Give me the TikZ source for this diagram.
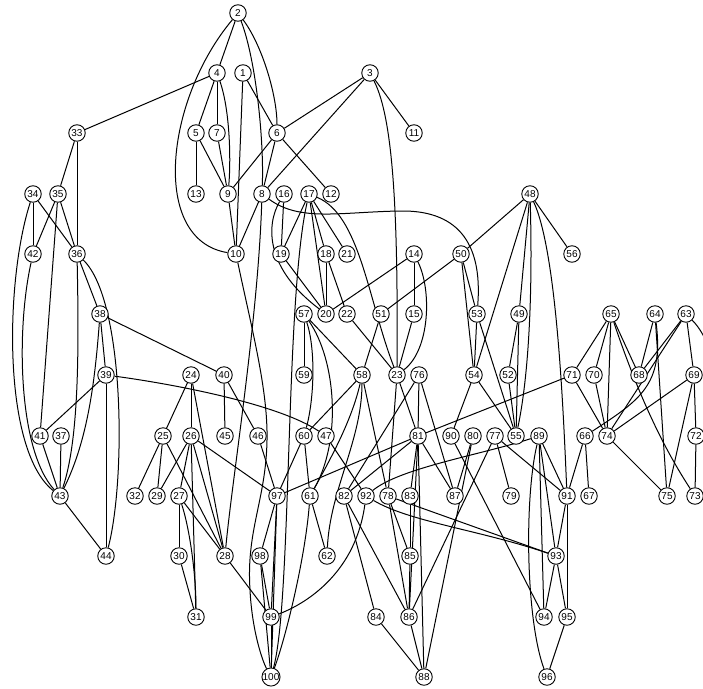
\documentclass[tikz,border=0pt]{standalone}
\usepackage{fontspec}
\setmainfont{Liberation Sans}
\usetikzlibrary{backgrounds}
\begin{document}
\begin{tikzpicture}[x=1pt, y=-1pt,
    vertex/.style={draw, circle, fill=white, line width=0.9pt, minimum size=16.5pt, inner sep=0pt, font=\fontsize{10}{10}\selectfont},
    link/.style={line width=1pt}]
\useasboundingbox (0,0) rectangle (703,688);
% Nodes, one rank per row
\foreach \n/\x in {2/238} \node[vertex] (v\n) at (\x,13) {\n};
\foreach \n/\x in {4/217, 1/243, 3/370} \node[vertex] (v\n) at (\x,73) {\n};
\foreach \n/\x in {33/77, 5/196, 7/217, 6/277, 11/414} \node[vertex] (v\n) at (\x,133) {\n};
\foreach \n/\x in {34/33, 35/58, 13/196, 9/228, 8/262, 16/284, 17/309, 12/331, 48/530} \node[vertex] (v\n) at (\x,194) {\n};
\foreach \n/\x in {42/33, 36/77, 10/236, 19/281, 18/326, 21/347, 14/414, 50/461, 56/572} \node[vertex] (v\n) at (\x,254) {\n};
\foreach \n/\x in {38/100, 57/304, 20/326, 22/347, 51/381, 15/414, 53/477, 49/519, 65/611, 64/655, 63/686} \node[vertex] (v\n) at (\x,314) {\n};
\foreach \n/\x in {39/106, 24/191, 40/224, 59/304, 58/362, 23/397, 76/419, 54/474, 52/508, 71/572, 70/594, 68/639, 69/694} \node[vertex] (v\n) at (\x,375) {\n};
\foreach \n/\x in {41/40, 37/61, 25/163, 26/191, 45/225, 46/258, 60/304, 47/326, 81/418, 90/451, 80/473, 77/495, 55/516, 89/539, 66/585, 74/607, 72/696} \node[vertex] (v\n) at (\x,436) {\n};
\foreach \n/\x in {43/60, 32/135, 29/157, 27/179, 97/277, 61/310, 82/344, 92/366, 78/388, 83/410, 87/455, 79/511, 91/567, 67/589, 75/667, 73/695} \node[vertex] (v\n) at (\x,496) {\n};
\foreach \n/\x in {44/106, 30/179, 28/225, 98/260, 62/327, 85/410, 93/556} \node[vertex] (v\n) at (\x,556) {\n};
\foreach \n/\x in {31/196, 99/271, 84/376, 86/409, 94/544, 95/567} \node[vertex] (v\n) at (\x,617) {\n};
\foreach \n/\x in {100/271, 88/424, 96/547} \node[vertex] (v\n) at (\x,677) {\n};
\begin{scope}[on background layer]
% Straight edges
\foreach \a/\b in {2/4, 4/33, 4/5, 4/7, 1/6, 3/6, 3/8, 3/11, 5/13, 5/9, 7/9, 6/9, 6/8, 6/12, 9/10, 8/10, 1/10,
    33/35, 33/36, 34/42, 34/36, 35/42, 35/36, 35/41, 36/38, 38/39, 38/40, 39/41, 39/44, 37/43, 41/43, 43/44, 40/45, 40/46,
    24/25, 24/26, 24/28, 25/32, 25/29, 25/28, 26/29, 26/27, 26/31, 26/28, 26/97, 27/30, 27/28, 30/31, 28/99,
    16/19, 17/19, 17/18, 17/20, 17/21, 19/20, 18/20, 18/22, 14/20, 14/15, 22/23, 15/23, 50/51, 51/58, 57/58, 57/59,
    58/60, 58/78, 60/97, 60/61, 61/62, 46/97, 47/92,
    23/81, 23/78, 76/81, 76/87, 76/82, 81/82, 71/81, 81/97, 81/83, 81/87, 81/86, 81/88, 83/85, 78/85, 78/86, 82/86,
    82/84, 85/86, 86/88, 84/88, 80/87, 80/88, 77/86, 77/79, 77/91,
    48/50, 48/54, 48/49, 48/56, 50/53, 50/54, 53/54, 53/55, 54/55, 49/52, 49/55, 52/55, 54/90, 90/94,
    89/91, 89/93, 89/94, 66/91, 66/67, 91/93, 91/95, 93/94, 93/95, 95/96, 78/93,
    65/71, 65/70, 65/74, 65/68, 64/68, 64/75, 63/68, 63/74, 63/69, 69/72, 69/74, 69/75, 70/74, 71/74, 74/75, 72/73,
    97/98, 97/99, 97/100, 98/99, 98/100, 99/100}
  \draw[link] (v\a) -- (v\b);
% Curved edges
\draw[link] (v2) .. controls (262,45) and (277,95) .. (v6);
\draw[link] (v2) .. controls (256,60) and (264,140) .. (v8);
\draw[link] (v2) .. controls (165,100) and (150,240) .. (v10);
\draw[link] (v4) .. controls (230,110) and (231,160) .. (v9);
\draw[link] (v3) .. controls (394,120) and (398,220) .. (v23);
\draw[link] (v8) .. controls (300,222) and (340,212) .. (400,211) .. controls (455,210) and (483,240) .. (v53);
\draw[link] (v8) .. controls (258,320) and (232,480) .. (v28);
\draw[link] (v16) .. controls (266,225) and (265,268) .. (v20);
\draw[link] (v17) .. controls (360,215) and (368,300) .. (v23);
\draw[link] (v14) .. controls (432,290) and (430,350) .. (v23);
\draw[link] (v17) .. controls (285,300) and (292,600) .. (v100);
\draw[link] (v10) .. controls (252,330) and (268,390) .. (267,440) .. controls (266,500) and (246,530) .. (250,590) .. controls (252,630) and (262,660) .. (v100);
\draw[link] (v57) .. controls (316,350) and (314,400) .. (v60);
\draw[link] (v57) .. controls (336,360) and (342,440) .. (v61);
\draw[link] (v58) .. controls (352,420) and (330,460) .. (v61);
\draw[link] (v58) .. controls (362,440) and (330,490) .. (v62);
\draw[link] (v61) .. controls (305,560) and (285,640) .. (v100);
\draw[link] (v34) .. controls (5,280) and (2,450) .. (v43);
\draw[link] (v42) .. controls (16,330) and (18,450) .. (v43);
\draw[link] (v36) .. controls (79,350) and (79,440) .. (v43);
\draw[link] (v38) .. controls (95,380) and (88,440) .. (v43);
\draw[link] (v36) .. controls (125,300) and (126,480) .. (v44);
\draw[link] (v39) .. controls (180,385) and (280,405) .. (v47);
\draw[link] (v27) .. controls (190,530) and (196,575) .. (v31);
\draw[link] (v89) .. controls (480,455) and (400,468) .. (v92);
\draw[link] (v92) .. controls (410,522) and (480,530) .. (v93);
\draw[link] (v92) .. controls (356,570) and (310,602) .. (v99);
\draw[link] (v89) .. controls (524,500) and (526,620) .. (v96);
\draw[link] (v48) .. controls (556,250) and (563,400) .. (v91);
\draw[link] (v48) .. controls (533,300) and (528,380) .. (v55);
\draw[link] (v65) .. controls (640,400) and (665,450) .. (v73);
\draw[link] (v64) .. controls (664,385) and (640,400) .. (v66);
\draw[link] (v63) .. controls (722,350) and (720,420) .. (v72);
\end{scope}
\end{tikzpicture}
\end{document}
